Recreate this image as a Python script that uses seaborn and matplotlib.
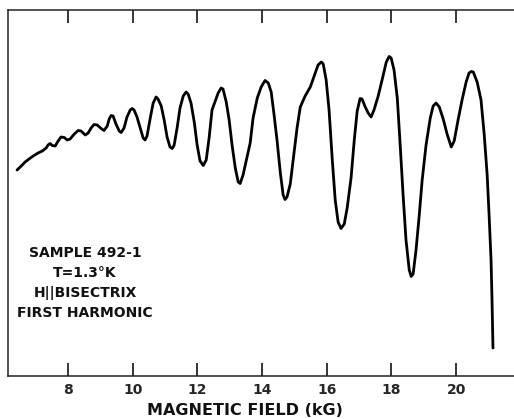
import matplotlib
matplotlib.use("Agg")
import matplotlib.pyplot as plt
import seaborn as sns
import pandas as pd

# First-harmonic oscillatory signal versus magnetic field (arbitrary units)
field_kG = [6.42, 6.55, 6.67, 6.79, 6.92, 7.07, 7.20, 7.32, 7.38, 7.44, 7.51,
            7.60, 7.69, 7.78, 7.88, 7.97, 8.06, 8.19, 8.31, 8.40, 8.53, 8.62,
            8.71, 8.80, 8.90, 9.02, 9.11, 9.21, 9.27, 9.33, 9.39, 9.48, 9.58,
            9.64, 9.73, 9.82, 9.92, 9.98, 10.04, 10.13, 10.23, 10.32, 10.38,
            10.44, 10.54, 10.63, 10.72, 10.78, 10.88, 10.97, 11.06, 11.15,
            11.22, 11.28, 11.37, 11.46, 11.56, 11.65, 11.71, 11.80, 11.90,
            11.99, 12.08, 12.18, 12.27, 12.36, 12.45, 12.55, 12.64, 12.73,
            12.79, 12.89, 12.98, 13.07, 13.17, 13.26, 13.32, 13.41, 13.54,
            13.63, 13.72, 13.85, 13.97, 14.09, 14.19, 14.28, 14.37, 14.46,
            14.56, 14.65, 14.71, 14.77, 14.87, 14.96, 15.08, 15.18, 15.33,
            15.49, 15.61, 15.73, 15.83, 15.89, 15.98, 16.07, 16.17, 16.26,
            16.35, 16.44, 16.54, 16.63, 16.75, 16.85, 16.94, 17.03, 17.09,
            17.19, 17.28, 17.37, 17.46, 17.59, 17.71, 17.84, 17.93, 17.99,
            18.08, 18.18, 18.27, 18.36, 18.45, 18.55, 18.61, 18.67, 18.76,
            18.86, 18.95, 19.07, 19.20, 19.29, 19.38, 19.48, 19.60, 19.72,
            19.85, 19.94, 20.06, 20.19, 20.31, 20.40, 20.47, 20.53, 20.65,
            20.77, 20.87, 20.96, 21.02, 21.08, 21.11, 21.14]
signal = [206, 210, 214, 217, 220, 223, 225, 228, 231, 232.5, 230.5,
          230, 235, 239, 238.5, 236, 237, 242, 245.5, 245, 241, 243,
          248, 251.5, 251, 247.5, 245.5, 250, 257, 260.5, 260, 252, 245,
          243.5, 248, 259, 266, 267.5, 266, 259, 248, 238, 236,
          240, 258, 273, 279, 277, 270, 256, 239, 229,
          227.5, 231, 248, 268, 280, 284, 282, 273, 254,
          231, 215, 210.5, 216, 238, 266, 275, 283, 288,
          287, 274, 256, 231, 208, 194, 192.5, 201, 220,
          233, 258, 278, 289, 295.5, 293, 284, 261, 236,
          204, 181, 176.5, 179, 192, 216, 248, 269, 280,
          289, 300, 311, 314, 312, 296, 266, 216, 176,
          154, 147.5, 152, 168, 198, 236, 265, 277.5, 277,
          269, 263, 259, 266, 280, 296, 314, 319.5, 318,
          306, 278, 231, 181, 136, 106, 99.5, 102, 126,
          161, 196, 231, 258, 270, 273, 269, 257, 242,
          229, 235, 256, 277, 294, 303, 304.5, 304, 294,
          276, 241, 201, 161, 116, 76, 28]

tick_values = [8, 10, 12, 14, 16, 18, 20]
tick_labels = ["8", "10", "12", "14", "16", "18", "20"]

annotation_lines = ["SAMPLE 492-1", "T=1.3\u00b0K", "H||BISECTRIX", "FIRST HARMONIC"]
x_label = "MAGNETIC FIELD (kG)"

sns.set_theme(style="white")
plt.rcParams["font.family"] = ["DejaVu Sans"]

W, H = 514, 419
fig = plt.figure(figsize=(W / 100, H / 100), dpi=100)
ax = fig.add_axes([8 / W, 43 / H, 506 / W, 366 / H])

df = pd.DataFrame({"field": field_kG, "signal": signal})
sns.lineplot(data=df, x="field", y="signal", sort=False, estimator=None,
             color="black", linewidth=2.0, ax=ax)
ax.lines[0].set_solid_joinstyle("round")
ax.lines[0].set_solid_capstyle("round")

ax.set_xlim(6.14, 21.79)
ax.set_ylim(0, 366)
ax.set_xticks(tick_values)
ax.set_xticklabels(tick_labels, fontsize=10, fontweight="bold")
ax.set_yticks([])
ax.tick_params(axis="x", direction="in", length=9.5, width=1.1, color="black",
               top=True, bottom=True, pad=5)
ax.set_xlabel("")
ax.set_ylabel("")
for side in ("left", "top", "bottom"):
    ax.spines[side].set_color("#222222")
    ax.spines[side].set_linewidth(1.1)
ax.spines["right"].set_visible(False)

for i, line in enumerate(annotation_lines):
    fig.text(85 / W, 1 - (253 + 20 * i) / H, line, ha="center", va="center",
             fontsize=10, fontweight="bold", color="#111111")

fig.text(245 / W, 1 - 410 / H, x_label, ha="center", va="center",
         fontsize=11.5, fontweight="bold", color="#111111")

fig.savefig("out.png", dpi=100, facecolor="white")
